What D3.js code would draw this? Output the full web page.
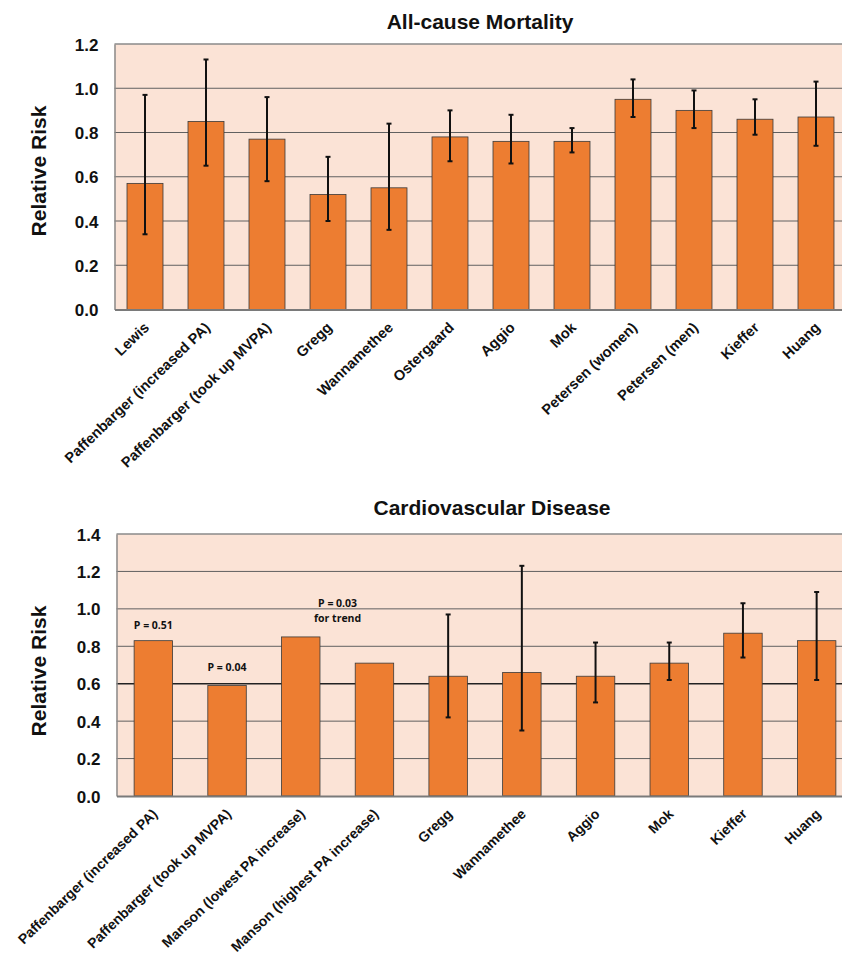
<!DOCTYPE html>
<html>
<head>
<meta charset="utf-8">
<script src="https://cdn.jsdelivr.net/npm/d3@7"></script>
<style>
  html, body { margin: 0; padding: 0; background: #ffffff; }
  svg { display: block; }
</style>
</head>
<body>
<svg id="chart" width="842" height="957"></svg>
<script>
// ---------- Data ----------
const mortalityCategories = [
  "Lewis", "Paffenbarger (increased PA)", "Paffenbarger (took up MVPA)", "Gregg",
  "Wannamethee", "Ostergaard", "Aggio", "Mok", "Petersen (women)", "Petersen (men)",
  "Kieffer", "Huang"
];
const mortalityRR    = [0.57, 0.85, 0.77, 0.52, 0.55, 0.78, 0.76, 0.76, 0.95, 0.90, 0.86, 0.87];
const mortalityLower = [0.34, 0.65, 0.58, 0.40, 0.36, 0.67, 0.66, 0.71, 0.87, 0.82, 0.79, 0.74];
const mortalityUpper = [0.97, 1.13, 0.96, 0.69, 0.84, 0.90, 0.88, 0.82, 1.04, 0.99, 0.95, 1.03];
const mortalityTicks = [0, 0.2, 0.4, 0.6, 0.8, 1.0, 1.2];

const cvdCategories = [
  "Paffenbarger (increased PA)", "Paffenbarger (took up MVPA)", "Manson (lowest PA increase)",
  "Manson (highest PA increase)", "Gregg", "Wannamethee", "Aggio", "Mok", "Kieffer", "Huang"
];
const cvdRR    = [0.83, 0.59, 0.85, 0.71, 0.64, 0.66, 0.64, 0.71, 0.87, 0.83];
const cvdLower = [null, null, null, null, 0.42, 0.35, 0.50, 0.62, 0.74, 0.62];
const cvdUpper = [null, null, null, null, 0.97, 1.23, 0.82, 0.82, 1.03, 1.09];
const cvdTicks = [0, 0.2, 0.4, 0.6, 0.8, 1.0, 1.2, 1.4];

// p-value annotations
const cvdNotes = [
  { lines: ["P = 0.51"], from: 0, to: 0, value: 0.89 },
  { lines: ["P = 0.04"], from: 1, to: 1, value: 0.67 },
  { lines: ["P = 0.03", "for trend"], from: 2, to: 3, value: 1.012 }
];

// ---------- Drawing ----------
const svg = d3.select("#chart");
const FONT = "'Liberation Sans', Arial, Helvetica, sans-serif";

function drawPanel(opt) {
  const g = svg.append("g");
  const x = d3.scaleBand()
    .domain(opt.categories)
    .range([opt.left, opt.right])
    .paddingInner(opt.pad)
    .paddingOuter(opt.pad / 2);
  const y = d3.scaleLinear().domain([0, opt.max]).range([opt.bottom, opt.top]);

  // plot background
  g.append("rect")
    .attr("x", opt.left).attr("y", y(opt.max))
    .attr("width", 842 - opt.left).attr("height", y(0) - y(opt.max))
    .attr("fill", "#FBE3D6");

  // gridlines
  const isDark = d => opt.darkGrid != null && Math.abs(d - opt.darkGrid) < 1e-9;
  g.selectAll("line.grid").data(opt.ticks.filter(t => t > 0 && t < opt.max))
    .join("line")
    .attr("x1", opt.left).attr("x2", 842)
    .attr("y1", d => y(d)).attr("y2", d => y(d))
    .attr("stroke", d => isDark(d) ? "#222" : "#606060")
    .attr("stroke-width", d => isDark(d) ? 1.6 : 1);

  // top border
  g.append("line")
    .attr("x1", opt.left).attr("x2", 842)
    .attr("y1", y(opt.max)).attr("y2", y(opt.max))
    .attr("stroke", "#8a8a8a").attr("stroke-width", 1.5);

  // left axis
  const yAxis = d3.axisLeft(y).tickValues(opt.ticks).tickFormat(d3.format(".1f")).tickSize(0).tickPadding(16);
  const ya = g.append("g").attr("transform", `translate(${opt.left},0)`).call(yAxis);
  ya.select(".domain").attr("stroke", "#8a8a8a").attr("stroke-width", 1.5);
  ya.selectAll("text")
    .attr("font-family", FONT).attr("font-weight", "bold").attr("font-size", 17)
    .attr("fill", "#111").attr("dy", "0.36em");

  // bars
  g.selectAll("rect.bar").data(opt.values)
    .join("rect")
    .attr("x", (d, i) => x(opt.categories[i]))
    .attr("y", d => y(d))
    .attr("width", x.bandwidth())
    .attr("height", d => y(0) - y(d))
    .attr("fill", "#ED7D31")
    .attr("stroke", "#3a3a3a").attr("stroke-width", 0.8);

  // x axis
  const xAxis = d3.axisBottom(x).tickSize(0).tickPadding(0);
  const xa = g.append("g").attr("transform", `translate(0,${opt.bottom})`).call(xAxis);
  xa.select(".domain").attr("stroke", "#7a7a7a").attr("stroke-width", 2);
  xa.selectAll("text")
    .attr("font-family", FONT).attr("font-weight", "bold").attr("font-size", opt.xFont)
    .attr("fill", "#111")
    .attr("text-anchor", "end")
    .attr("dy", 0).attr("y", 0)
    .attr("transform", "translate(5,19) rotate(-44)");

  // error bars
  const eb = opt.values.map((v, i) => ({ i, lo: opt.lower[i], hi: opt.upper[i] }))
    .filter(d => d.lo != null && d.hi != null);
  const cx = d => x(opt.categories[d.i]) + x.bandwidth() / 2;
  const eg = g.append("g").attr("stroke", "#111").attr("stroke-width", 2);
  eg.selectAll("line.v").data(eb).join("line")
    .attr("x1", cx).attr("x2", cx)
    .attr("y1", d => y(d.lo)).attr("y2", d => y(d.hi));
  eg.selectAll("line.t").data(eb).join("line")
    .attr("x1", d => cx(d) - 2.5).attr("x2", d => cx(d) + 2.5)
    .attr("y1", d => y(d.hi)).attr("y2", d => y(d.hi));
  eg.selectAll("line.b").data(eb).join("line")
    .attr("x1", d => cx(d) - 2.5).attr("x2", d => cx(d) + 2.5)
    .attr("y1", d => y(d.lo)).attr("y2", d => y(d.lo));

  // title
  g.append("text")
    .attr("x", opt.titleX).attr("y", opt.titleY)
    .attr("text-anchor", "middle")
    .attr("font-family", FONT).attr("font-weight", "bold").attr("font-size", 21)
    .attr("fill", "#111")
    .text(opt.title);

  // y axis title
  g.append("text")
    .attr("transform", `translate(46,${opt.ylabY}) rotate(-90)`)
    .attr("text-anchor", "middle")
    .attr("font-family", FONT).attr("font-weight", "bold").attr("font-size", 21)
    .attr("fill", "#111")
    .text("Relative Risk");

  // notes
  if (opt.notes) {
    opt.notes.forEach(n => {
      const nx = (x(opt.categories[n.from]) + x(opt.categories[n.to]) + x.bandwidth()) / 2;
      const t = g.append("text")
        .attr("x", nx).attr("y", y(n.value))
        .attr("text-anchor", "middle")
        .attr("font-family", "'Open Sans', sans-serif").attr("font-weight", "bold").attr("font-size", 10.5)
        .attr("fill", "#111");
      n.lines.forEach((line, k) => {
        t.append("tspan").attr("x", nx).attr("dy", k === 0 ? 0 : 15).text(line);
      });
    });
  }
}

drawPanel({
  categories: mortalityCategories, values: mortalityRR, lower: mortalityLower, upper: mortalityUpper,
  ticks: mortalityTicks, max: 1.2, xFont: 14.6,
  left: 114.5, right: 846.5, top: 44, bottom: 309.5, pad: 0.41,
  title: "All-cause Mortality", titleX: 480, titleY: 28.5, ylabY: 171
});

drawPanel({
  categories: cvdCategories, values: cvdRR, lower: cvdLower, upper: cvdUpper,
  ticks: cvdTicks, max: 1.4, xFont: 14,
  left: 116.5, right: 853.5, top: 534, bottom: 796, pad: 0.478,
  title: "Cardiovascular Disease", titleX: 492, titleY: 515, ylabY: 671,
  notes: cvdNotes, darkGrid: 0.6
});
</script>
</body>
</html>
